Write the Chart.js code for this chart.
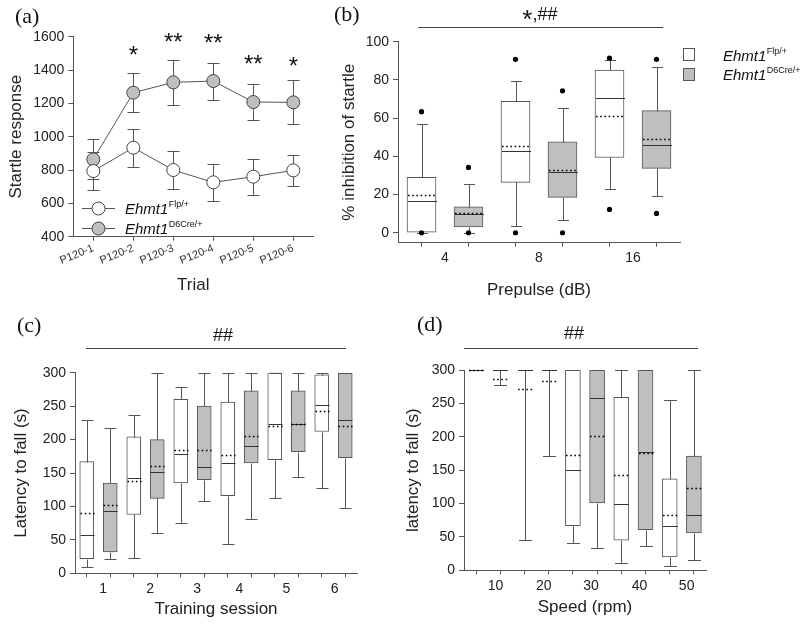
<!DOCTYPE html>
<html>
<head>
<meta charset="utf-8">
<script src="https://cdn.jsdelivr.net/npm/chart.js@4.4.0/dist/chart.umd.min.js"></script>
<style>
  body { margin: 0; background: #fff; }
  #wrap { position: relative; width: 800px; height: 624px; }
  #wrap canvas { position: absolute; left: 0; top: 0; }
  .tag { position: absolute; font: 22px 'Liberation Serif', 'Times New Roman', serif; line-height: 22px; color: #111; }
</style>
</head>
<body>
<div id="wrap">
  <canvas id="chartA" width="800" height="624"></canvas>
  <canvas id="chartB" width="800" height="624"></canvas>
  <canvas id="chartC" width="800" height="624"></canvas>
  <canvas id="chartD" width="800" height="624"></canvas>
  <div class="tag" style="left:15px;top:5px">(a)</div>
  <div class="tag" style="left:334px;top:3px">(b)</div>
  <div class="tag" style="left:17px;top:314px">(c)</div>
  <div class="tag" style="left:417px;top:313px">(d)</div>
</div>
<script>
// genotype superscripts (white = Flp/+, gray = D6Cre/+)
var genotypeSup = ['Flp/+', 'D6Cre/+'];

// (a) acoustic startle, mean +/- SEM
var trialLabels = ['P120-1', 'P120-2', 'P120-3', 'P120-4', 'P120-5', 'P120-6'];
var flpStartle = [794, 934, 800, 726, 760, 798];
var flpStartleSem = [115, 113, 113, 109, 108, 92];
var creStartle = [864, 1264, 1326, 1334, 1208, 1206];
var creStartleSem = [120, 116, 136, 111, 107, 132];
var starMarks = ['', '*', '**', '**', '**', '*'];
var starLevels = [null, 1520, 1598, 1592, 1466, 1454];

// box rows: [low whisker, Q1, median, Q3, high whisker, mean]
// (b) prepulse inhibition
var prepulseLabels = ['4', '8', '16'];
var ppiFlp = [[0, 0, 16.4, 29, 57, 19.9], [3.5, 26.4, 43, 68.8, 79.4, 45.4], [22.9, 39.4, 70.3, 85.2, 90.4, 61.3]];
var ppiCre = [[0, 3, 9.6, 13.6, 25.5, 10.6], [6.5, 18.5, 31.9, 47.6, 65.4, 33], [19.5, 33.7, 46.1, 63.9, 86.9, 48.9]];
var ppiFlpOut = [[63.4, 0], [90.8, 0], [91.4, 12.2]];
var ppiCreOut = [[34.2, 0], [74.3, 0], [90.8, 10.1]];

// (c) rotarod training sessions
var sessionLabels = ['1', '2', '3', '4', '5', '6'];
var trainFlp = [[9, 22, 58, 167, 229, 90], [23, 88, 143, 204, 237, 138], [75, 135, 179, 260, 278, 185],
                [44, 116, 165, 256, 300, 177], [113, 170, 224, 300, 300, 220], [128, 212, 251, 297, 300, 243]];
var trainCre = [[21, 32, 93, 135, 217, 102], [60, 112, 152, 200, 300, 161], [108, 140, 159, 250, 300, 184],
                [81, 165, 191, 273, 300, 205], [144, 182, 224, 273, 300, 224], [97, 173, 229, 299, 300, 221]];

// (d) fixed speed rotarod
var speedLabels = ['10', '20', '30', '40', '50'];
var speedFlp = [[300, 300, 300, 300, 300, 300], [45, 300, 300, 300, 300, 271], [41, 67, 150, 300, 300, 173],
                [11, 45, 100, 259, 300, 143], [6, 20, 67, 137, 255, 83]];
var speedCre = [[278, 300, 300, 300, 300, 287], [171, 300, 300, 300, 300, 284], [34, 101, 258, 300, 300, 201],
                [37, 61, 177, 300, 300, 176], [15, 56, 83, 171, 300, 124]];

Chart.defaults.font.family = "'Liberation Sans', Arial, sans-serif";
Chart.defaults.color = '#222';

var AXIS = '#555';
var GRAY = '#bfbfbf';

var drawGeno = function (ctx, x, y, sup) {
    ctx.fillStyle = '#111';
    ctx.textAlign = 'left';
    ctx.textBaseline = 'alphabetic';
    ctx.font = "italic 15px 'Liberation Sans', Arial, sans-serif";
    ctx.fillText('Ehmt1', x, y);
    var w = ctx.measureText('Ehmt1').width;
    ctx.font = "9px 'Liberation Sans', Arial, sans-serif";
    ctx.fillText(sup, x + w + 0.5, y - 7);
};

var sigBar = function (chart, from, to, center, lineOff, textOff, parts) {
    var ctx = chart.ctx, xs = chart.scales.x, top = chart.chartArea.top;
    ctx.save();
    ctx.strokeStyle = '#444';
    ctx.lineWidth = 1;
    ctx.beginPath();
    ctx.moveTo(xs.getPixelForValue(from), Math.round(top - lineOff) + 0.5);
    ctx.lineTo(xs.getPixelForValue(to), Math.round(top - lineOff) + 0.5);
    ctx.stroke();
    ctx.fillStyle = '#111';
    ctx.textBaseline = 'alphabetic';
    ctx.textAlign = 'left';
    var total = 0;
    parts.forEach(function (p) { ctx.font = p.font; total += ctx.measureText(p.text).width; });
    var x = xs.getPixelForValue(center) - total / 2;
    parts.forEach(function (p) {
        ctx.font = p.font;
        ctx.fillText(p.text, x, top - textOff + (p.dy || 0));
        x += ctx.measureText(p.text).width;
    });
    ctx.restore();
};

var boxPlugin = function (groups, capHalf) {
    return {
        id: 'boxes',
        afterDatasetsDraw: function (chart) {
            var ctx = chart.ctx, xs = chart.scales.x, ys = chart.scales.y;
            var half = chart.getDatasetMeta(0).data[0].width / 2;
            ctx.save();
            groups.forEach(function (g) {
                g.boxes.forEach(function (b, i) {
                    var x = Math.round(xs.getPixelForValue(g.start + 2 * i)) + 0.5;
                    var py = function (v) { return Math.round(ys.getPixelForValue(v)) + 0.5; };
                    ctx.setLineDash([]);
                    ctx.lineWidth = 1;
                    ctx.strokeStyle = AXIS;
                    ctx.beginPath();
                    ctx.moveTo(x, py(b[3])); ctx.lineTo(x, py(b[4]));
                    ctx.moveTo(x, py(b[1])); ctx.lineTo(x, py(b[0]));
                    ctx.moveTo(x - capHalf, py(b[4])); ctx.lineTo(x + capHalf, py(b[4]));
                    ctx.moveTo(x - capHalf, py(b[0])); ctx.lineTo(x + capHalf, py(b[0]));
                    ctx.stroke();
                    ctx.strokeStyle = '#333';
                    ctx.beginPath();
                    ctx.moveTo(x - half, py(b[2])); ctx.lineTo(x + half, py(b[2]));
                    ctx.stroke();
                    ctx.strokeStyle = '#000';
                    ctx.lineWidth = 1.6;
                    ctx.setLineDash([1.6, 2.6]);
                    ctx.beginPath();
                    ctx.moveTo(x - half, py(b[5])); ctx.lineTo(x + half, py(b[5]));
                    ctx.stroke();
                });
                (g.outliers || []).forEach(function (vals, i) {
                    var x = xs.getPixelForValue(g.start + 2 * i);
                    vals.forEach(function (v) {
                        ctx.fillStyle = '#000';
                        ctx.beginPath();
                        ctx.arc(x, ys.getPixelForValue(v), 2.6, 0, Math.PI * 2);
                        ctx.fill();
                    });
                });
            });
            ctx.restore();
        }
    };
};

var boxChart = function (id, s) {
    var n = s.flp.length * 2;
    var boxPos = [];
    for (var i = 1; i <= n; i++) boxPos.push(i);
    var toBars = function (rows, start) {
        return rows.map(function (b, i) { return {x: start + 2 * i, y: [b[1], b[3]]}; });
    };
    return new Chart(document.getElementById(id), {
        type: 'bar',
        data: {
            datasets: [
                {data: toBars(s.flp, 1), backgroundColor: '#fff', borderColor: AXIS, borderWidth: 1,
                 borderSkipped: false, barThickness: s.barW, grouped: false},
                {data: toBars(s.cre, 2), backgroundColor: GRAY, borderColor: AXIS, borderWidth: 1,
                 borderSkipped: false, barThickness: s.barW, grouped: false}
            ]
        },
        options: {
            responsive: false,
            animation: false,
            events: [],
            layout: {padding: {left: s.area[0] - s.yW, top: s.area[1], right: 800 - s.area[2], bottom: 624 - s.area[3] - s.xH}},
            plugins: {legend: {display: false}, tooltip: {enabled: false}},
            scales: {
                x: {
                    type: 'linear', min: 0.5, max: n + 0.5, offset: false,
                    afterFit: function (sc) { sc.height = s.xH; },
                    afterBuildTicks: function (sc) {
                        sc.ticks = boxPos.concat(s.labelPos).map(function (v) { return {value: v}; });
                    },
                    ticks: {
                        autoSkip: false, maxRotation: 0, minRotation: 0, padding: 3, font: {size: 14},
                        callback: function (v) {
                            var k = s.labelPos.indexOf(v);
                            return k >= 0 ? s.labels[k] : '';
                        }
                    },
                    grid: {
                        offset: false, drawOnChartArea: false, tickLength: 4,
                        tickColor: function (c) { return c.tick && boxPos.indexOf(c.tick.value) >= 0 ? AXIS : 'rgba(0,0,0,0)'; }
                    },
                    border: {color: AXIS},
                    title: {display: true, text: s.xTitle, font: {size: 17}, padding: {top: 4, bottom: s.xTitlePad}}
                },
                y: {
                    min: s.yMin, max: s.yMax,
                    afterFit: function (sc) { sc.width = s.yW; },
                    afterBuildTicks: function (sc) {
                        sc.ticks = s.yTicks.map(function (v) { return {value: v}; });
                    },
                    ticks: {font: {size: 14}, padding: 4, callback: function (v) { return String(v); }},
                    grid: {drawOnChartArea: false, tickLength: 5, tickColor: AXIS},
                    border: {color: AXIS},
                    title: {display: true, text: s.yTitle, font: {size: 17}}
                }
            }
        },
        plugins: [
            boxPlugin([{start: 1, boxes: s.flp, outliers: s.flpOut}, {start: 2, boxes: s.cre, outliers: s.creOut}], s.capHalf),
            {id: 'extras', afterDraw: s.extras}
        ]
    });
};

// ---------- (a)
new Chart(document.getElementById('chartA'), {
    type: 'line',
    data: {
        labels: trialLabels,
        datasets: [
            {data: flpStartle, sem: flpStartleSem, borderColor: AXIS, borderWidth: 1, pointRadius: 6.5,
             pointBackgroundColor: '#fff', pointBorderColor: '#444', pointBorderWidth: 1},
            {data: creStartle, sem: creStartleSem, borderColor: AXIS, borderWidth: 1, pointRadius: 6.5,
             pointBackgroundColor: GRAY, pointBorderColor: '#444', pointBorderWidth: 1}
        ]
    },
    options: {
        responsive: false,
        animation: false,
        events: [],
        layout: {padding: {left: 1.8, top: 36.7, right: 800 - 313.3, bottom: 624 - 299.2}},
        plugins: {legend: {display: false}, tooltip: {enabled: false}},
        scales: {
            x: {
                offset: true,
                afterFit: function (sc) { sc.height = 62.5; },
                ticks: {font: {size: 11}, autoSkip: false, minRotation: 22, maxRotation: 22, padding: 1, color: '#333'},
                grid: {drawOnChartArea: false, tickLength: 4, tickColor: AXIS},
                border: {color: AXIS},
                title: {display: true, text: 'Trial', font: {size: 17}}
            },
            y: {
                min: 400, max: 1600,
                afterFit: function (sc) { sc.width = 71.5; },
                ticks: {stepSize: 200, font: {size: 14}, padding: 4, callback: function (v) { return String(v); }},
                grid: {drawOnChartArea: false, tickLength: 5, tickColor: AXIS},
                border: {color: AXIS},
                title: {display: true, text: 'Startle response', font: {size: 17}}
            }
        }
    },
    plugins: [{
        id: 'errorBars',
        beforeDatasetsDraw: function (chart) {
            var ctx = chart.ctx, xs = chart.scales.x, ys = chart.scales.y;
            ctx.save();
            ctx.strokeStyle = AXIS;
            ctx.lineWidth = 1;
            chart.data.datasets.forEach(function (ds) {
                ds.data.forEach(function (v, i) {
                    var x = Math.round(xs.getPixelForValue(i)) + 0.5;
                    var hi = Math.round(ys.getPixelForValue(v + ds.sem[i])) + 0.5;
                    var lo = Math.round(ys.getPixelForValue(v - ds.sem[i])) + 0.5;
                    ctx.beginPath();
                    ctx.moveTo(x, hi); ctx.lineTo(x, lo);
                    ctx.moveTo(x - 6, hi); ctx.lineTo(x + 6, hi);
                    ctx.moveTo(x - 6, lo); ctx.lineTo(x + 6, lo);
                    ctx.stroke();
                });
            });
            ctx.restore();
        },
        afterDraw: function (chart) {
            var ctx = chart.ctx, xs = chart.scales.x, ys = chart.scales.y;
            ctx.save();
            ctx.fillStyle = '#111';
            ctx.textAlign = 'center';
            ctx.textBaseline = 'alphabetic';
            ctx.font = "24px 'Liberation Sans', Arial, sans-serif";
            starMarks.forEach(function (m, i) {
                if (!m) return;
                ctx.fillText(m, xs.getPixelForValue(i), ys.getPixelForValue(starLevels[i]) + 13);
            });
            // legend
            [['#fff', 208, 214], [GRAY, 228, 234]].forEach(function (row, k) {
                ctx.strokeStyle = AXIS;
                ctx.lineWidth = 1;
                ctx.beginPath();
                ctx.moveTo(82, row[1] + 0.5); ctx.lineTo(115, row[1] + 0.5);
                ctx.stroke();
                ctx.fillStyle = row[0];
                ctx.strokeStyle = '#444';
                ctx.beginPath();
                ctx.arc(98.5, row[1] + 0.5, 6.5, 0, Math.PI * 2);
                ctx.fill();
                ctx.stroke();
                drawGeno(ctx, 125, row[2], genotypeSup[k]);
            });
            ctx.restore();
        }
    }]
});

// ---------- (b)
boxChart('chartB', {
    flp: ppiFlp, cre: ppiCre, flpOut: ppiFlpOut, creOut: ppiCreOut,
    labels: prepulseLabels, labelPos: [1.5, 3.5, 5.5],
    yMin: -5.2, yMax: 100, yTicks: [0, 20, 40, 60, 80, 100],
    area: [398, 41.7, 680, 242.7], yW: 63.2, xH: 61.5, xTitlePad: 4,
    barW: 29, capHalf: 5.5,
    xTitle: 'Prepulse (dB)', yTitle: '% inhibition of startle',
    extras: function (chart) {
        var ctx = chart.ctx;
        sigBar(chart, 0.93, 6.14, 3.52, 15, 22, [
            {text: '*', font: "26px 'Liberation Sans', Arial, sans-serif", dy: 8},
            {text: ',##', font: "18px 'Liberation Sans', Arial, sans-serif"}
        ]);
        ctx.save();
        [['#fff', 48, 61], [GRAY, 68, 80]].forEach(function (row, k) {
            ctx.fillStyle = row[0];
            ctx.strokeStyle = AXIS;
            ctx.lineWidth = 1;
            ctx.fillRect(683, row[1], 11, 12);
            ctx.strokeRect(683.5, row[1] + 0.5, 11, 12);
            drawGeno(ctx, 723, row[2], genotypeSup[k]);
        });
        ctx.restore();
    }
});

// ---------- (c)
boxChart('chartC', {
    flp: trainFlp, cre: trainCre,
    labels: sessionLabels, labelPos: [1.7, 3.7, 5.7, 7.5, 9.5, 11.55],
    yMin: 0, yMax: 300, yTicks: [0, 50, 100, 150, 200, 250, 300],
    area: [75, 372.7, 357, 573.3], yW: 68.2, xH: 46.7, xTitlePad: 0,
    barW: 14, capHalf: 6,
    xTitle: 'Training session', yTitle: 'Latency to fall (s)',
    extras: function (chart) {
        sigBar(chart, 0.97, 12.03, 6.8, 24.4, 32, [
            {text: '##', font: "18px 'Liberation Sans', Arial, sans-serif"}
        ]);
    }
});

// ---------- (d)
boxChart('chartD', {
    flp: speedFlp, cre: speedCre,
    labels: speedLabels, labelPos: [1.8, 3.8, 5.75, 7.75, 9.7],
    yMin: 0, yMax: 300, yTicks: [0, 50, 100, 150, 200, 250, 300],
    area: [464, 370, 706, 570.3], yW: 65.2, xH: 47.7, xTitlePad: 0,
    barW: 15, capHalf: 6.5,
    xTitle: 'Speed (rpm)', yTitle: 'latency to fall (s)',
    extras: function (chart) {
        sigBar(chart, 0.5, 10.17, 5.05, 21.7, 31, [
            {text: '##', font: "18px 'Liberation Sans', Arial, sans-serif"}
        ]);
    }
});
</script>
</body>
</html>
